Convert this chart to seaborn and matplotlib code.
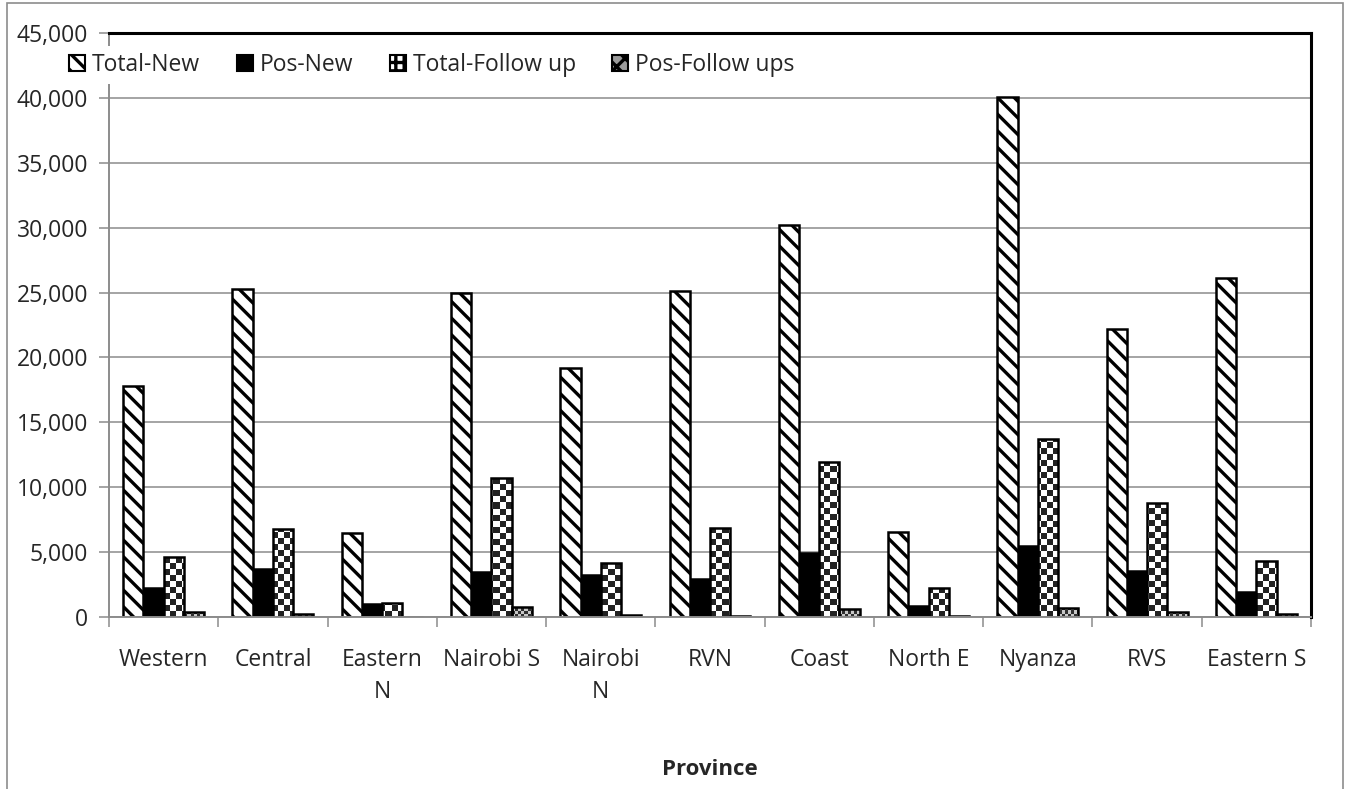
import numpy as np
import pandas as pd
import matplotlib
matplotlib.use("Agg")
import matplotlib.pyplot as plt
from matplotlib.patches import Patch, Rectangle
from matplotlib.colors import ListedColormap
from matplotlib.ticker import FuncFormatter
import seaborn as sns

# --- Data ---
provinces = ['Western', 'Central', 'Eastern\nN', 'Nairobi S', 'Nairobi\nN', 'RVN',
             'Coast', 'North E', 'Nyanza', 'RVS', 'Eastern S']
series = ['Total-New', 'Pos-New', 'Total-Follow up', 'Pos-Follow ups']
total_new = [17800, 25300, 6500, 25000, 19200, 25100, 30200, 6550, 40100, 22200, 26100]
pos_new = [2250, 3700, 1000, 3450, 3200, 2900, 4900, 850, 5450, 3550, 1900]
total_fu = [4600, 6800, 1050, 10700, 4150, 6850, 11950, 2200, 13700, 8800, 4350]
pos_fu = [400, 230, 30, 800, 160, 60, 620, 50, 700, 380, 200]
y_ticks = np.arange(0, 45001, 5000)

df = pd.DataFrame({'Province': provinces, 'Total-New': total_new, 'Pos-New': pos_new,
                   'Total-Follow up': total_fu, 'Pos-Follow ups': pos_fu})
long_df = df.melt(id_vars='Province', var_name='Series', value_name='Count')

# --- Style ---
sns.set_style('white')
plt.rcParams['font.family'] = ['Open Sans', 'DejaVu Sans']
plt.rcParams['hatch.linewidth'] = 2.4
FS = 16.5

W, H = 1349, 789
fig = plt.figure(figsize=(W / 100, H / 100), dpi=100)
ax = fig.add_axes([109 / W, 1 - 617 / H, 1202 / W, 584 / H])

pal = {'Total-New': 'white', 'Pos-New': 'black',
       'Total-Follow up': 'white', 'Pos-Follow ups': 'white'}
sns.barplot(data=long_df, x='Province', y='Count', hue='Series', order=provinces,
            hue_order=series, palette=pal, saturation=1, width=0.74,
            edgecolor='black', linewidth=1.8, legend=False, ax=ax)

ax.set_xlim(-0.5, len(provinces) - 0.5)
ax.set_ylim(0, 45000)

# hatch for Total-New
for bar in ax.containers[0]:
    bar.set_hatch('\\\\')
    bar.set_zorder(2)


def checker(cell_px, c1, c2):
    nx = int(1202 / cell_px)
    ny = int(584 / cell_px)
    arr = (np.add.outer(np.arange(ny), np.arange(nx)) % 2)
    return arr, ListedColormap([c1, c2])


# checkerboard fills for the follow-up series, clipped to the bars
for idx, (cell, c1, c2) in [(2, (6, '#222222', 'white')), (3, (3, '#303030', '#c8c8c8'))]:
    arr, cmap = checker(cell, c1, c2)
    for bar in ax.containers[idx]:
        bar.set_facecolor('none')
        bar.set_zorder(2)
        im = ax.imshow(arr, extent=(-0.5, len(provinces) - 0.5, 0, 45000), aspect='auto',
                       cmap=cmap, interpolation='nearest', zorder=1.5)
        im.set_clip_path(bar)

ax.set_xlim(-0.5, len(provinces) - 0.5)
ax.set_ylim(0, 45000)

# grid and axes
ax.set_axisbelow(True)
ax.yaxis.grid(True, color='#8c8c8c', lw=1.1)
ax.set_yticks(y_ticks)
ax.yaxis.set_major_formatter(FuncFormatter(lambda v, p: f'{int(v):,}'))
ax.tick_params(axis='y', direction='out', length=7, color='#8c8c8c', width=1.1,
               labelsize=FS, pad=8, left=True)

ax.set_xticks(np.arange(-0.5, len(provinces), 1))
ax.set_xticklabels([''] * (len(provinces) + 1))
ax.set_xticks(np.arange(len(provinces)), minor=True)
ax.set_xticklabels(provinces, minor=True, linespacing=1.45)
ax.tick_params(axis='x', which='major', direction='out', length=7, color='#8c8c8c',
               width=1.1, bottom=True)
ax.tick_params(axis='x', which='minor', length=0, labelsize=FS, pad=22)

ax.set_xlabel('Province', fontsize=FS - 0.5, fontweight='bold', labelpad=40)
ax.set_ylabel('')

for s in ['left', 'bottom']:
    ax.spines[s].set_color('#8c8c8c')
    ax.spines[s].set_linewidth(1.4)
for s in ['top', 'right']:
    ax.spines[s].set_color('black')
    ax.spines[s].set_linewidth(2.2)

# legend
handles = [Patch(facecolor='white', edgecolor='black', hatch='\\\\', lw=1.5),
           Patch(facecolor='black', edgecolor='black', lw=1.5),
           Patch(facecolor='white', edgecolor='black', hatch='++', lw=1.5),
           Patch(facecolor='#9a9a9a', edgecolor='black', hatch='xx', lw=1.5)]
leg = ax.legend(handles, series, loc='center left', bbox_to_anchor=(62 / W, 1 - 65 / H),
                bbox_transform=fig.transFigure, ncol=4, fontsize=FS, frameon=True,
                facecolor='white', edgecolor='none', fancybox=False, framealpha=1,
                handlelength=0.7, handleheight=0.7, handletextpad=0.3,
                columnspacing=1.6, borderpad=0.3, borderaxespad=0)
leg.set_zorder(5)

# outer chart border
fig.patches.append(Rectangle((7 / W, -0.01), 1336 / W, 1 - 3 / H + 0.01,
                             transform=fig.transFigure, fill=False,
                             edgecolor='#8c8c8c', lw=1.2))

fig.savefig('out.png', dpi=100)
